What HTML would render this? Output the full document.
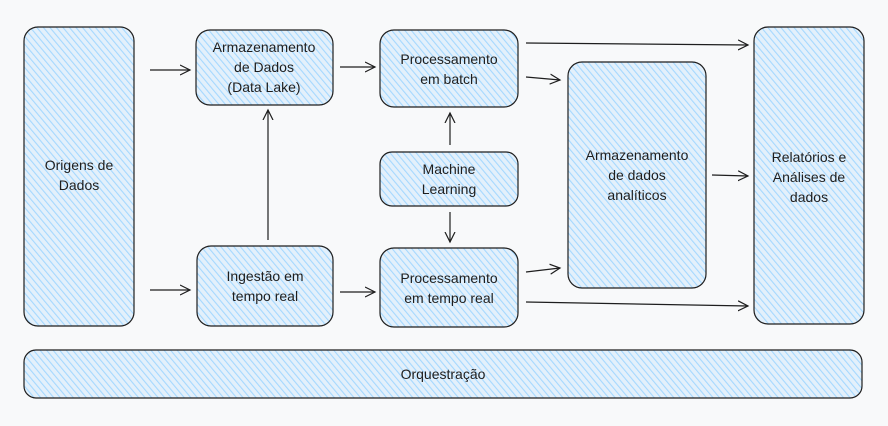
<!DOCTYPE html>
<html><head><meta charset="utf-8"><style>
html,body{margin:0;padding:0;background:#f8f9fa;}
svg{display:block}
text{font-family:"Liberation Sans",sans-serif;font-size:14px;fill:#1e1e1e;text-anchor:middle}
</style></head><body>
<svg width="888" height="426" viewBox="0 0 888 426" xmlns="http://www.w3.org/2000/svg">
<defs>
<pattern id="h" width="5" height="5" patternUnits="userSpaceOnUse" patternTransform="rotate(-40)">
<rect width="5" height="5" fill="#e3f0fb"/>
<line x1="0" y1="0" x2="0" y2="5" stroke="#a5d8ff" stroke-width="2.2"/>
</pattern>
<marker id="a" markerWidth="12" markerHeight="12" refX="10" refY="6" orient="auto" markerUnits="userSpaceOnUse">
<path d="M0,1 L10,6 L0,11" fill="none" stroke="#1e1e1e" stroke-width="1.2"/>
</marker>
</defs>
<g fill="url(#h)" stroke="#1e1e1e" stroke-width="1.2">
<rect x="24" y="27" width="110" height="299" rx="14"/>
<rect x="196" y="30" width="137" height="75" rx="14"/>
<rect x="380" y="30" width="138" height="77" rx="14"/>
<rect x="380" y="152" width="138" height="54" rx="12"/>
<rect x="197" y="246" width="136" height="80" rx="14"/>
<rect x="380" y="248" width="138" height="79" rx="14"/>
<rect x="568" y="62" width="138" height="226" rx="14"/>
<rect x="754" y="27" width="110" height="297" rx="14"/>
<rect x="24" y="350" width="838" height="48" rx="12"/>
</g>
<g stroke="#1e1e1e" stroke-width="1.2" fill="none" marker-end="url(#a)">
<line x1="150" y1="70" x2="190" y2="70"/>
<line x1="150" y1="290" x2="190" y2="290"/>
<line x1="340" y1="67" x2="375" y2="67"/>
<line x1="340" y1="292" x2="375" y2="292"/>
<line x1="268" y1="240" x2="268" y2="110"/>
<line x1="450" y1="145" x2="450" y2="113"/>
<line x1="450" y1="212" x2="450" y2="242"/>
<line x1="526" y1="43" x2="748" y2="45"/>
<line x1="526" y1="77" x2="560" y2="80"/>
<line x1="526" y1="272" x2="560" y2="268"/>
<line x1="526" y1="302" x2="748" y2="306"/>
<line x1="712" y1="175" x2="748" y2="176"/>
</g>
<text x="79" y="170">Origens de</text><text x="79" y="190">Dados</text>
<text x="264" y="52">Armazenamento</text><text x="264" y="72">de Dados</text><text x="264" y="92">(Data Lake)</text>
<text x="449" y="64">Processamento</text><text x="449" y="84">em batch</text>
<text x="449" y="174">Machine</text><text x="449" y="194">Learning</text>
<text x="265" y="281">Ingestão em</text><text x="265" y="301">tempo real</text>
<text x="449" y="283">Processamento</text><text x="449" y="303">em tempo real</text>
<text x="637" y="160">Armazenamento</text><text x="637" y="180">de dados</text><text x="637" y="200">analíticos</text>
<text x="809" y="162">Relatórios e</text><text x="809" y="182">Análises de</text><text x="809" y="202">dados</text>
<text x="443" y="379">Orquestração</text>
</svg>
</body></html>
